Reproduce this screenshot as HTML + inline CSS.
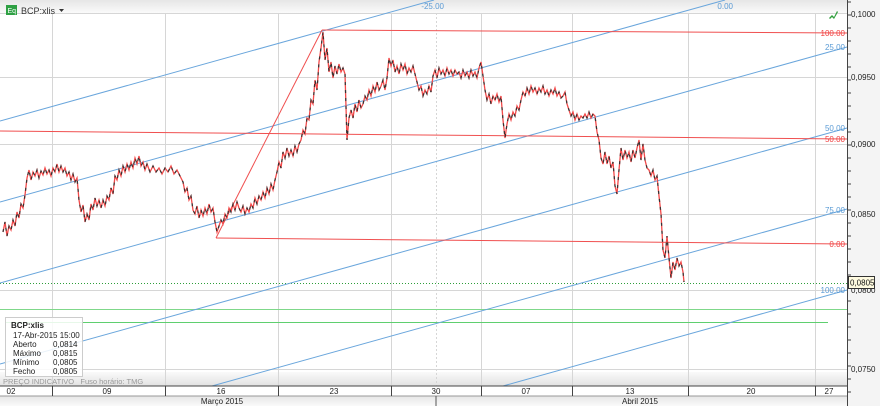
<!DOCTYPE html>
<html><head><meta charset="utf-8"><style>
html,body{margin:0;padding:0;background:#fff;width:880px;height:406px;overflow:hidden;}
svg{display:block;font-family:"Liberation Sans",sans-serif;}
</style></head><body>
<svg width="880" height="406" viewBox="0 0 880 406" overflow="hidden" xmlns="http://www.w3.org/2000/svg" xmlns:xlink="http://www.w3.org/1999/xlink">
<defs>
<linearGradient id="hg" x1="0" y1="0" x2="0" y2="1"><stop offset="0" stop-color="#e6e6e6"/><stop offset="1" stop-color="#fafafa"/></linearGradient>
<linearGradient id="bg2" x1="0" y1="0" x2="0" y2="1"><stop offset="0" stop-color="#fafafa"/><stop offset="1" stop-color="#e2e2e2"/></linearGradient>
<polyline id="pp" points="3,232 5,222 7,236 9,226 11,230 13,220 15,226 17,212 19,218 21,204 23,208 25,195 27,178 29,170 31,180 33,172 35,176 37,170 39,178 41,171 43,175 45,168 47,174 49,170 51,176 53,168 55,172 57,164 59,172 61,166 63,172 65,168 67,176 69,172 71,180 73,174 75,182 77,178 79,200 81,212 83,205 85,222 87,214 89,220 91,204 93,210 95,198 97,206 99,200 101,208 103,200 105,206 107,196 109,200 111,188 113,194 115,176 117,180 119,170 121,176 123,166 125,172 127,164 129,170 131,162 133,168 135,158 137,164 139,156 141,166 143,162 145,170 147,164 150,172 153,166 156,172 159,168 162,174 165,168 168,172 171,166 174,174 177,170 180,176 183,182 185,192 187,188 189,200 191,196 193,210 195,214 197,206 199,218 201,210 203,216 205,208 207,214 209,204 211,212 213,208 215,222 217,232 219,226 221,220 223,224 225,214 227,218 229,208 231,212 233,204 235,210 237,202 239,208 241,212 243,206 245,214 247,208 249,212 251,204 253,208 255,198 257,204 259,196 261,200 263,192 265,198 267,188 269,194 271,184 273,190 275,180 277,172 279,162 281,168 283,152 285,158 287,148 289,156 291,150 293,156 295,146 297,152 299,144 301,140 303,130 305,134 307,118 309,120 311,100 313,104 315,80 317,90 319,62 321,48 323,32 325,60 327,48 329,72 331,62 333,78 335,66 337,74 339,64 341,72 343,68 345,74 347,140 349,118 351,110 353,118 355,104 357,112 359,100 361,108 363,104 365,96 367,100 369,90 371,96 373,86 375,92 377,82 379,90 381,86 383,80 385,90 387,78 389,58 391,66 393,60 395,72 397,66 399,74 401,64 403,70 405,64 407,74 409,68 411,72 413,66 415,74 417,82 419,90 421,86 423,96 425,90 427,94 429,86 431,92 433,76 435,70 437,78 439,68 441,74 443,70 445,76 447,68 449,74 451,70 453,76 455,70 457,74 459,72 461,78 463,70 465,76 467,72 469,78 471,70 473,76 475,72 477,78 479,68 481,62 483,76 485,90 487,100 489,94 491,104 493,96 495,100 497,94 499,102 501,96 503,120 505,138 507,124 509,114 511,120 513,112 515,116 517,106 519,110 521,100 523,92 525,96 527,88 529,94 531,86 533,92 535,88 537,94 539,88 541,92 543,86 545,94 547,90 549,96 551,90 553,94 555,88 557,96 559,92 561,98 563,96 565,92 567,104 569,110 571,116 573,112 575,120 577,114 579,120 581,116 583,118 585,114 587,118 589,112 591,118 593,114 595,116 597,132 599,140 601,158 603,164 605,152 607,164 609,156 611,168 613,162 615,186 617,194 619,170 621,148 623,160 625,150 627,158 629,152 631,162 633,150 635,158 637,148 639,140 641,160 643,144 645,160 647,168 649,170 651,176 653,170 655,180 657,176 659,196 661,214 663,250 665,258 667,236 669,258 671,278 673,262 675,270 677,258 679,266 681,262 683,272 684,282"/>
</defs>
<rect x="0" y="0" width="880" height="406" fill="#fff"/>
<rect x="0" y="0" width="847" height="13" fill="url(#hg)"/>
<rect x="0" y="372" width="847" height="14" fill="url(#bg2)"/>
<g stroke="#d6d6d6" stroke-width="1">
<line x1="52.5" y1="13" x2="52.5" y2="386"/><line x1="165.5" y1="13" x2="165.5" y2="386"/>
<line x1="278.5" y1="13" x2="278.5" y2="386"/><line x1="391.5" y1="13" x2="391.5" y2="386"/>
<line x1="481.5" y1="13" x2="481.5" y2="386"/><line x1="572.5" y1="13" x2="572.5" y2="386"/>
<line x1="688.5" y1="13" x2="688.5" y2="386"/><line x1="815.5" y1="13" x2="815.5" y2="386"/>
<line x1="436.5" y1="13" x2="436.5" y2="386" stroke-dasharray="2,2"/>
<line x1="0" y1="13.5" x2="847" y2="13.5"/><line x1="0" y1="77.5" x2="847" y2="77.5"/>
<line x1="0" y1="144.5" x2="847" y2="144.5"/><line x1="0" y1="214.5" x2="847" y2="214.5"/>
<line x1="0" y1="290.5" x2="847" y2="290.5"/><line x1="0" y1="369.5" x2="847" y2="369.5"/>
</g>
<g fill="none" stroke-width="1">
<line x1="0" y1="283.5" x2="847" y2="283.5" stroke="#2e9e3a" stroke-dasharray="1,2"/>
<line x1="0" y1="309.5" x2="847" y2="309.5" stroke="#7fd88a"/>
<line x1="5" y1="322.5" x2="828" y2="322.5" stroke="#5fcf6f"/>
<g stroke="#6aa6dc">
<line x1="0" y1="121" x2="434" y2="0"/><line x1="0" y1="202" x2="725" y2="0"/>
<line x1="0" y1="283" x2="847" y2="47"/><line x1="0" y1="364" x2="847" y2="128"/>
<line x1="212" y1="386" x2="847" y2="209"/><line x1="503" y1="386" x2="847" y2="290"/>
</g>
<g stroke="#f05050">
<line x1="216" y1="238" x2="322" y2="30"/><line x1="322" y1="30" x2="847" y2="33"/>
<line x1="0" y1="131" x2="847" y2="139"/><line x1="216" y1="238" x2="847" y2="244"/>
</g>
</g>
<use xlink:href="#pp" href="#pp" fill="none" stroke="#f24a4a" stroke-width="1.3"/>
<use xlink:href="#pp" href="#pp" fill="none" stroke="#333" stroke-width="1.2" stroke-dasharray="3,5"/>
<rect x="6" y="5" width="11" height="10" fill="#2ea043"/>
<text x="7.5" y="13" font-size="7" fill="#fff">Eq</text>
<text x="21" y="14" font-size="9" fill="#333">BCP:xlis</text>
<path d="M59 9 l5 0 l-2.5 3z" fill="#333"/>
<path d="M829 18 l3 -3 l2 2 l3 -6 l1 1 l-4 7 l-2 -2 l-2 2z" fill="#2e9e3a"/>
<rect x="5.5" y="317.5" width="77" height="59" fill="#fff" fill-opacity="0.85" stroke="#ccc"/>
<g font-size="8" fill="#222">
<text x="11" y="328" font-weight="bold">BCP:xlis</text>
<text x="13" y="338">17-Abr-2015 15:00</text>
<text x="13" y="347">Aberto</text><text x="53" y="347">0,0814</text>
<text x="13" y="356">Máximo</text><text x="53" y="356">0,0815</text>
<text x="13" y="365">Mínimo</text><text x="53" y="365">0,0805</text>
<text x="13" y="374">Fecho</text><text x="53" y="374">0,0805</text>
</g>
<text x="3" y="384" font-size="7.5" fill="#999" xml:space="preserve">PREÇO INDICATIVO   Fuso horário: TMG</text>
<rect x="0" y="386" width="848" height="20" fill="#fff"/>
<rect x="0" y="396" width="848" height="10" fill="url(#hg)"/>
<line x1="0" y1="386" x2="848" y2="386" stroke="#444"/>
<line x1="0" y1="396" x2="848" y2="396" stroke="#999"/>
<g stroke="#444">
<line x1="52.5" y1="386" x2="52.5" y2="396"/><line x1="165.5" y1="386" x2="165.5" y2="396"/>
<line x1="278.5" y1="386" x2="278.5" y2="396"/><line x1="391.5" y1="386" x2="391.5" y2="396"/>
<line x1="481.5" y1="386" x2="481.5" y2="396"/><line x1="572.5" y1="386" x2="572.5" y2="396"/>
<line x1="688.5" y1="386" x2="688.5" y2="396"/><line x1="815.5" y1="386" x2="815.5" y2="396"/>
</g>
<g font-size="8" fill="#222" text-anchor="middle">
<text x="11" y="394">02</text><text x="107" y="394">09</text><text x="221" y="394">16</text>
<text x="334" y="394">23</text><text x="436" y="394">30</text><text x="526" y="394">07</text>
<text x="630" y="394">13</text><text x="751" y="394">20</text><text x="829" y="394">27</text>
<text x="222" y="404">Março 2015</text><text x="640" y="404">Abril 2015</text>
</g>
<line x1="436" y1="396" x2="436" y2="406" stroke="#555"/>
<rect x="848" y="0" width="32" height="406" fill="#f4f4f4"/>
<line x1="847.5" y1="0" x2="847.5" y2="406" stroke="#444"/>
<path stroke="#444" d="M847 2h4M847 15h4M847 28h4M847 41h4M847 54h4M847 67h4M847 80h4M847 93h4M847 106h4M847 119h4M847 132h4M847 145h4M847 158h4M847 171h4M847 184h4M847 197h4M847 210h4M847 223h4M847 236h4M847 249h4M847 262h4M847 275h4M847 288h4M847 301h4M847 314h4M847 327h4M847 340h4M847 353h4M847 366h4M847 379h4M847 392h4"/>
<g font-size="8" fill="#222">
<text x="851" y="17">0,1000</text><text x="851" y="80">0,0950</text>
<text x="851" y="147">0,0900</text><text x="851" y="217">0,0850</text>
<text x="851" y="293">0,0800</text><text x="851" y="372">0,0750</text>
</g>
<rect x="848.5" y="276.5" width="26" height="12" fill="#fffbe0" stroke="#333"/>
<text x="850" y="285.5" font-size="8" fill="#111">0,0805</text>
<g font-size="8" text-anchor="end">
<text x="444" y="9" fill="#5b9bd5">-25.00</text>
<text x="733" y="9" fill="#5b9bd5">0.00</text>
<text x="845" y="50" fill="#5b9bd5">25.00</text>
<text x="845" y="131" fill="#5b9bd5">50.00</text>
<text x="845" y="213" fill="#5b9bd5">75.00</text>
<text x="845" y="293" fill="#5b9bd5">100.00</text>
<text x="845" y="36" fill="#f04040">100.00</text>
<text x="845" y="142" fill="#f04040">50.00</text>
<text x="845" y="247" fill="#f04040">0.00</text>
</g>
</svg>
</body></html>
